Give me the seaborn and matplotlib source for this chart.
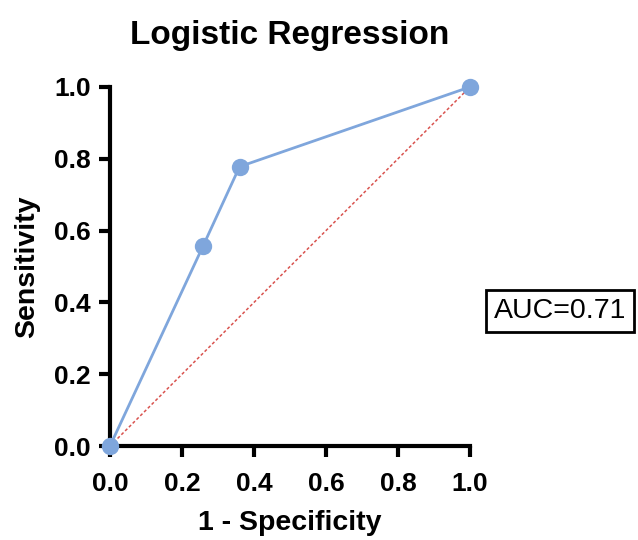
import matplotlib
matplotlib.use("Agg")
import matplotlib.pyplot as plt
import seaborn as sns
import pandas as pd

# ROC points
fpr = [0.0, 0.258, 0.36, 1.0]
tpr = [0.0, 0.556, 0.778, 1.0]
diag = [0.0, 1.0]
auc_label = "AUC=0.71"
ticks = [0.0, 0.2, 0.4, 0.6, 0.8, 1.0]
tick_labels = ["0.0", "0.2", "0.4", "0.6", "0.8", "1.0"]

sns.set_style("ticks")
plt.rcParams["font.family"] = ["Liberation Sans", "DejaVu Sans"]
plt.rcParams["text.color"] = "black"
plt.rcParams["axes.labelcolor"] = "black"
plt.rcParams["xtick.color"] = "black"
plt.rcParams["ytick.color"] = "black"
plt.rcParams["axes.edgecolor"] = "black"

df = pd.DataFrame({"fpr": fpr, "tpr": tpr})

fig = plt.figure(figsize=(6.38, 5.4), dpi=100)
ax = fig.add_axes([0.1724, 0.174, 0.5643, 0.665])

# chance line
ax.plot(diag, diag, color="#d9534f", linestyle=(0, (2, 1.5)), linewidth=1.1, zorder=2)

sns.lineplot(data=df, x="fpr", y="tpr", ax=ax, color="#7fa6dc", linewidth=2.0,
             marker="o", markersize=12.5, markeredgewidth=0, sort=False,
             estimator=None, zorder=3, clip_on=False)

ax.set_xlim(0, 1)
ax.set_ylim(0, 1)
ax.set_xticks(ticks)
ax.set_xticklabels(tick_labels, fontsize=19, fontweight="bold")
ax.set_yticks(ticks)
ax.set_yticklabels(tick_labels, fontsize=19, fontweight="bold")
ax.tick_params(direction="out", length=8, width=3)
ax.tick_params(axis="x", pad=11)
ax.tick_params(axis="y", pad=6)
for side in ["top", "right"]:
    ax.spines[side].set_visible(False)
for side in ["left", "bottom"]:
    ax.spines[side].set_linewidth(3)

ax.set_xlabel("1 - Specificity", fontsize=20.5, fontweight="bold", labelpad=10)
ax.set_ylabel("Sensitivity", fontsize=20.5, fontweight="bold", labelpad=10)
ax.set_title("Logistic Regression", fontsize=24, fontweight="bold", pad=31)

fig.text(0.878, 0.424, auc_label, fontsize=20.5, ha="center", va="center",
         bbox=dict(boxstyle="square,pad=0.28", facecolor="white", edgecolor="black", linewidth=2))

fig.savefig("out.png", dpi=100)
